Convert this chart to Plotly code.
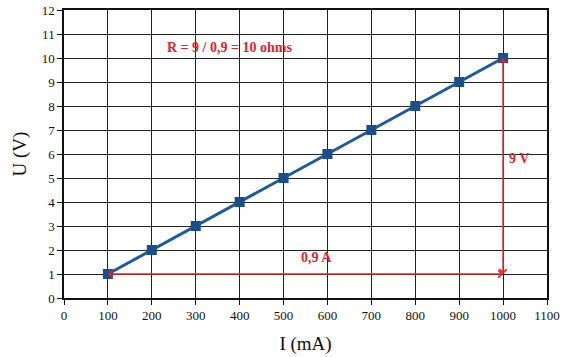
import plotly.graph_objects as go

current_mA = [100, 200, 300, 400, 500, 600, 700, 800, 900, 1000]
voltage_V = [1, 2, 3, 4, 5, 6, 7, 8, 9, 10]
x_ticks = [0, 100, 200, 300, 400, 500, 600, 700, 800, 900, 1000, 1100]
y_ticks = list(range(0, 13))

RED = "#e0242a"
FONT = "Liberation Serif"

fig = go.Figure()
fig.add_trace(go.Scatter(
    x=current_mA, y=voltage_V, mode="lines+markers",
    line=dict(color="#1f5a96", width=3),
    marker=dict(symbol="square", size=10, color="#1a4f8a"),
    showlegend=False,
))

# double-headed arrows
x0, x1 = current_mA[0], current_mA[-1]
y0, y1 = voltage_V[0], voltage_V[-1]
for (ax, ay, bx, by) in [(x0, y0, x1, y0), (x1, y0, x0, y0), (x1, y0, x1, y1), (x1, y1, x1, y0)]:
    fig.add_annotation(x=bx, y=by, ax=ax, ay=ay, xref="x", yref="y", axref="x", ayref="y",
                       showarrow=True, arrowhead=4, arrowsize=1.3, arrowwidth=1.1,
                       arrowcolor=RED, text="")

fig.add_annotation(x=378, y=10.45, text="R = 9 / 0,9 = 10 ohms", showarrow=False,
                   font=dict(family=FONT, size=14, color=RED, weight="bold"))
fig.add_annotation(x=574, y=1.7, text="0,9 A", showarrow=False,
                   font=dict(family=FONT, size=14, color=RED, weight="bold"))
fig.add_annotation(x=1008, y=5.83, text="9 V", showarrow=False, xanchor="left",
                   font=dict(family=FONT, size=14, color=RED, weight="bold"))

axis_common = dict(
    showgrid=True, gridcolor="#222222", gridwidth=1.3,
    showline=True, linecolor="#111111", linewidth=1.5, mirror=True,
    ticks="outside", ticklen=5, tickcolor="#111111",
    zeroline=False, automargin=False,
    tickfont=dict(family=FONT, size=13, color="#111111"),
)
fig.update_xaxes(range=[0, 1100], tickvals=x_ticks, ticktext=[str(v) for v in x_ticks],
                 title=dict(text="I (mA)", font=dict(family=FONT, size=19, color="#111111"), standoff=14),
                 **axis_common)
fig.update_yaxes(range=[0, 12], tickvals=y_ticks, ticktext=[str(v) for v in y_ticks],
                 title=dict(text="U (V)", font=dict(family=FONT, size=19, color="#111111"), standoff=10),
                 **axis_common)

fig.update_layout(
    width=572, height=357,
    font=dict(family=FONT, color="#111111"),
    margin=dict(l=64, r=25, t=10, b=59),
    plot_bgcolor="white", paper_bgcolor="white",
)
fig.write_html("out.html", config={"displayModeBar": False},
               post_script="document.body.style.margin='0px';")
